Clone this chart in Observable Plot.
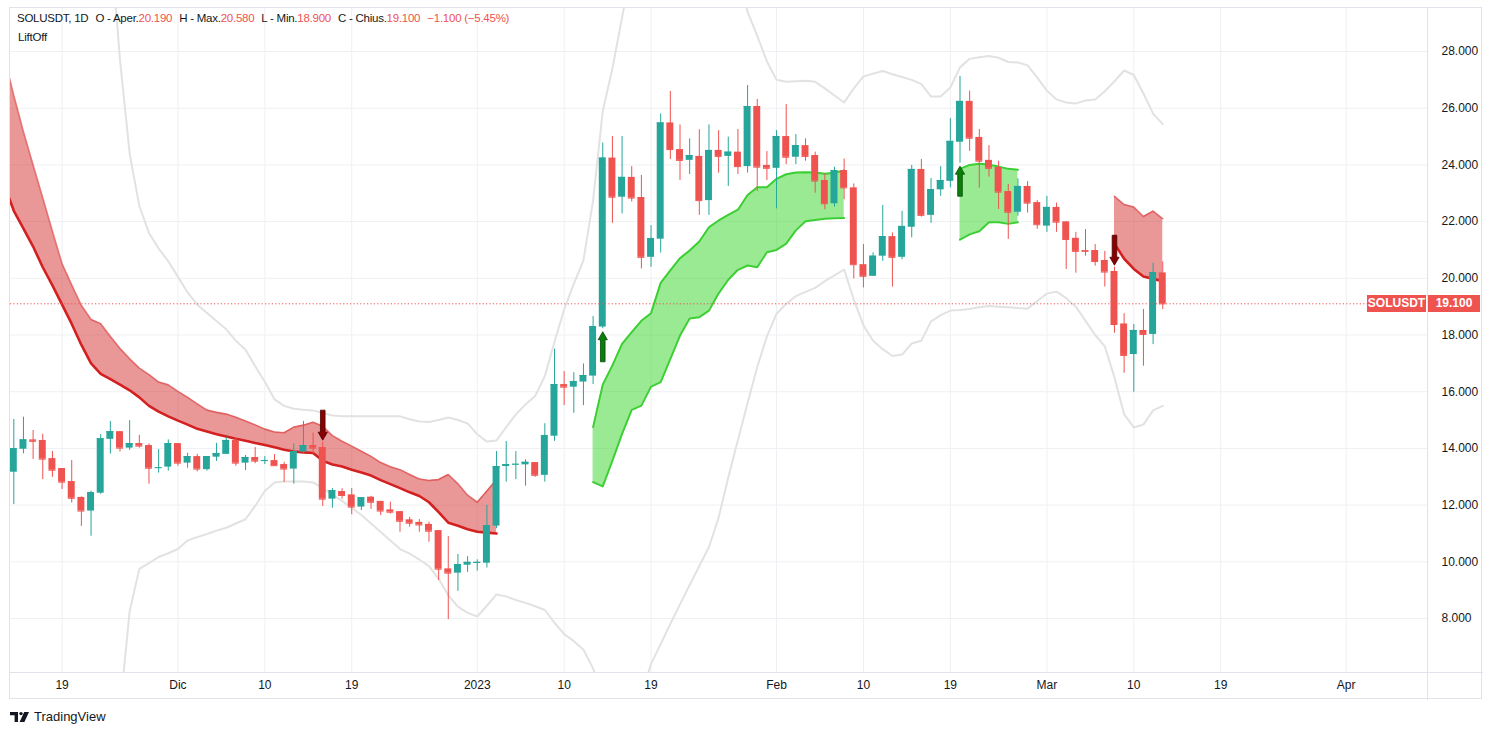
<!DOCTYPE html>
<html>
<head>
<meta charset="utf-8">
<script src="https://cdn.jsdelivr.net/npm/d3@7"></script>
<script src="https://cdn.jsdelivr.net/npm/@observablehq/plot@0.6"></script>
<style>
  html, body { margin: 0; padding: 0; background: #ffffff; }
  #wrap { position: relative; width: 1493px; height: 735px; font-family: "Liberation Sans", Arial, sans-serif; color: #131722; overflow: hidden; }
  #chart svg { display: block; }
  .ovl { position: absolute; pointer-events: none; }
  #header { left: 17px; top: 12px; font-size: 11.5px; letter-spacing: -0.25px; white-space: nowrap; }
  #header .g { margin-right: 7px; }
  #header .r { color: #ef5350; }
  #study { left: 18px; top: 31px; font-size: 11.5px; letter-spacing: -0.2px; }
  .pl { position: absolute; height: 17px; line-height: 17px; background: #ef5350; color: #fff; font-size: 12px; font-weight: bold; text-align: center; }
  #logo { left: 10px; top: 709px; font-size: 13px; display: flex; align-items: center; }
</style>
</head>
<body>
<div id="wrap">
  <div id="chart"></div>
</div>
<script>
// ---------- data ----------
const symbolName = "SOLUSDT";
const startUTC = Date.UTC(2022, 10, 14); // first candle: 14 Nov 2022
const DAY = 86400000;

const open = [
  13.16,13.97,14.30,14.28,13.64,13.29,12.83,12.27,11.79,12.42,
  14.32,14.59,14.01,14.17,14.10,13.30,13.34,14.17,13.48,13.71,
  13.25,13.69,13.79,14.28,13.48,13.68,13.54,13.57,13.43,13.27,
  13.87,14.10,14.03,12.21,12.48,12.36,11.93,12.28,12.13,11.83,
  11.77,11.48,11.39,11.32,11.10,9.75,9.60,9.88,9.94,9.95,
  11.26,13.36,13.42,13.42,13.50,13.05,14.43,16.25,16.16,16.34,
  16.55,18.28,24.24,22.86,23.56,22.85,20.74,21.38,25.48,24.54,
  24.16,24.30,22.74,24.51,24.30,24.45,23.94,26.06,23.98,23.88,
  25.00,24.27,24.68,24.33,23.45,22.63,23.80,23.19,20.48,20.07,
  20.78,21.47,20.74,21.80,23.84,22.22,23.12,23.42,24.80,26.24,
  24.97,24.16,23.91,23.06,22.33,23.24,22.67,21.84,22.50,21.99,
  21.41,20.98,20.98,20.63,20.24,18.39,17.31,18.16,18.02,20.19];
const high = [
  15.02,15.10,14.63,14.50,13.89,13.29,13.57,12.29,12.49,14.49,
  14.95,14.59,14.98,14.46,14.16,13.96,14.30,14.17,13.83,13.79,
  13.71,14.18,14.39,14.37,13.75,14.03,13.71,13.78,13.51,14.16,
  14.95,14.54,14.22,12.58,12.58,12.58,12.26,12.31,12.13,12.10,
  11.77,11.57,11.49,11.40,11.10,10.89,10.26,10.18,10.07,11.99,
  13.89,14.24,13.89,13.60,13.50,14.87,17.50,16.71,16.67,16.98,
  18.65,24.77,25.00,25.00,23.94,23.63,21.86,25.80,26.59,25.41,
  24.92,25.24,25.41,25.21,24.98,25.25,26.80,26.31,24.47,25.21,
  26.13,25.07,24.92,24.45,23.69,23.92,24.21,23.33,21.19,20.90,
  22.57,21.60,22.36,23.98,24.19,23.52,23.94,25.63,27.12,26.60,
  25.25,24.68,24.13,23.31,23.51,23.41,22.74,22.89,22.65,22.00,
  21.62,21.72,21.19,20.95,20.39,18.75,18.37,18.90,20.53,20.58];
const low = [
  12.02,13.81,13.61,12.90,12.98,12.55,12.07,11.25,10.90,12.38,
  13.80,13.87,13.93,14.01,12.74,13.13,13.20,13.37,13.30,13.17,
  13.20,13.54,13.79,13.37,13.22,13.46,13.43,13.37,12.80,12.74,
  13.81,13.81,11.95,11.89,12.21,11.66,11.81,11.85,11.63,11.68,
  11.04,11.22,11.04,10.69,9.34,7.96,8.96,9.63,9.67,9.78,
  11.17,12.81,12.90,12.67,12.98,12.81,14.25,15.51,15.24,15.51,
  16.25,18.22,21.94,22.27,22.69,20.33,20.39,20.89,24.19,23.45,
  23.66,22.22,22.22,23.71,23.24,23.66,23.71,23.06,23.45,22.45,
  24.01,24.01,24.13,23.00,22.42,22.51,22.77,19.98,19.66,20.07,
  20.60,19.69,20.65,21.43,22.16,21.94,22.89,23.19,24.06,24.48,
  23.18,23.57,22.43,21.37,22.19,22.30,21.73,21.62,21.62,20.31,
  20.18,20.78,20.43,19.69,18.06,16.65,15.98,16.90,17.66,18.90];
const close = [
  13.99,14.30,14.25,13.62,13.23,12.81,12.24,11.79,12.44,14.34,
  14.59,14.01,14.17,14.08,13.30,13.32,14.17,13.48,13.71,13.27,
  13.71,13.82,14.28,13.48,13.68,13.55,13.57,13.39,13.27,13.89,
  14.10,14.01,12.21,12.51,12.34,11.93,12.26,12.10,11.79,11.75,
  11.43,11.36,11.30,11.08,9.74,9.60,9.90,9.98,9.98,11.28,
  13.36,13.43,13.44,13.51,13.05,14.45,16.25,16.16,16.36,16.57,
  18.30,24.24,22.86,23.56,22.83,20.74,21.40,25.48,24.54,24.16,
  24.33,22.74,24.51,24.30,24.45,23.94,26.06,23.92,23.88,25.00,
  24.27,24.68,24.30,23.43,22.63,23.80,23.19,20.48,20.07,20.78,
  21.47,20.74,21.83,23.84,22.22,23.13,23.45,24.83,26.24,24.94,
  24.13,23.88,23.04,22.33,23.24,22.65,21.89,22.50,21.98,21.37,
  20.95,20.95,20.59,20.22,18.37,17.28,18.16,18.02,20.20,19.10];

// LiftOff bands (day index = days after first candle)
const redBandAStart = -1;
const redBandATop = [27.8,26.44,25.16,23.99,22.83,21.65,20.51,19.76,19.04,18.55,18.40,17.95,17.52,17.16,16.83,16.60,16.34,16.24,16.01,15.80,15.57,15.35,15.27,15.21,15.10,14.97,14.83,14.68,14.58,14.55,14.75,14.82,14.92,14.78,14.45,14.25,14.08,13.90,13.72,13.50,13.35,13.25,13.08,12.92,12.87,12.90,13.08,12.75,12.35,12.10,12.50,12.90];
const redBandABottom = [23.3,22.38,21.75,21.12,20.39,19.75,19.07,18.39,17.65,17.00,16.63,16.44,16.25,16.05,15.80,15.50,15.30,15.13,14.98,14.84,14.69,14.60,14.50,14.42,14.34,14.27,14.19,14.12,14.04,13.95,13.89,13.86,13.84,13.56,13.43,13.36,13.25,13.15,13.04,12.88,12.74,12.60,12.45,12.32,12.10,11.75,11.38,11.27,11.15,11.06,11.03,11.00];
const greenBandAStart = 60;
const greenBandATop = [14.75,16.25,16.93,17.69,18.10,18.50,18.77,19.84,20.28,20.71,20.98,21.30,21.80,22.04,22.24,22.42,22.94,23.21,23.21,23.51,23.67,23.73,23.74,23.73,23.69,23.72,23.80];
const greenBandABottom = [12.81,12.66,13.57,14.51,15.36,15.51,16.18,16.34,17.16,17.98,18.58,18.63,18.86,19.47,19.95,20.30,20.45,20.39,20.92,21.00,21.22,21.69,22.01,22.06,22.10,22.12,22.13];
const greenBandBStart = 98;
const greenBandBTop = [23.86,24.00,24.04,24.01,23.94,23.86,23.83];
const greenBandBBottom = [21.36,21.55,21.66,21.98,21.98,21.92,21.98];
const redBandBStart = 114;
const redBandBTop = [22.89,22.60,22.51,22.18,22.37,22.10];
const redBandBBottom = [21.22,20.69,20.33,20.06,19.98,19.90];

// envelope (grey) lines, as segments: [startDay, values]
const upperEnvA = [10, [32.0,27.7,24.4,22.55,21.6,21.05,20.6,20.05,19.5,19.07,18.78,18.49,18.2,17.8,17.48,16.9,16.35,15.73,15.5,15.4,15.36,15.34,15.25,15.16,15.13,15.13,15.13,15.13,15.13,15.13,15.13,15.03,14.95,14.93,15.0,15.09,15.0,14.88,14.5,14.24,14.28,14.75,15.2,15.55,15.85,16.55,17.75,18.9,19.8,20.63,22.75,25.9,27.4,29.2,31.0]];
const upperEnvB = [75, [31.0,29.4,28.55,27.65,27.0,26.93,26.95,26.97,26.93,26.7,26.45,26.2,26.7,27.12,27.22,27.31,27.2,27.1,27.0,26.85,26.41,26.41,26.73,27.44,27.74,27.8,27.84,27.78,27.63,27.61,27.51,27.08,26.62,26.31,26.2,26.17,26.27,26.31,26.6,26.95,27.33,27.17,26.52,25.81,25.44]];
const lowerEnvA = [11, [4.8,8.26,9.75,9.95,10.17,10.3,10.45,10.75,10.87,10.98,11.1,11.2,11.35,11.5,11.97,12.5,12.8,12.83,12.83,12.83,12.8,12.6,12.37,12.15,11.9,11.65,11.35,11.05,10.75,10.45,10.29,10.08,9.85,9.4,8.82,8.42,8.2,8.07,8.45,8.85,8.78,8.65,8.55,8.43,8.3,7.85,7.45,7.2,6.9,6.24,5.3]];
const lowerEnvB = [65, [5.3,6.4,7.1,7.81,8.5,9.18,9.85,10.52,11.56,12.97,14.3,15.6,16.87,17.95,18.75,19.1,19.37,19.52,19.66,19.9,20.1,20.31,19.25,18.34,17.8,17.5,17.26,17.31,17.7,17.8,18.48,18.7,18.86,18.88,18.92,18.98,19.02,19.0,18.98,18.95,18.93,19.2,19.46,19.53,19.3,19.0,18.5,18.0,17.6,16.5,15.2,14.74,14.84,15.34,15.5]];

// signals (arrows)
const signalDays = [32, 61, 98, 114];
const signalDirs = ["down", "up", "up", "down"];

// axis ticks
const tickDates = [[2022,10,19],[2022,11,1],[2022,11,10],[2022,11,19],[2023,0,1],[2023,0,10],[2023,0,19],[2023,1,1],[2023,1,10],[2023,1,19],[2023,2,1],[2023,2,10],[2023,2,19],[2023,3,1]];
const tickLabels = ["19","Dic","10","19","2023","10","19","Feb","10","19","Mar","10","19","Apr"];
const priceTicks = [8,10,12,14,16,18,20,22,24,26,28];

// ---------- build ----------
const UP = "#26a69a", DOWN = "#ef5350";
const dayDate = (d) => new Date(startUTC + d * DAY);
const candles = open.map((o, i) => ({date: dayDate(i), day: i, open: o, high: high[i], low: low[i], close: close[i], color: close[i] >= o ? UP : DOWN}));
const band = (start, top, bottom) => top.map((t, i) => ({date: dayDate(start + i), top: t, bottom: bottom[i]}));
const env = ([start, vals]) => vals.map((v, i) => ({date: dayDate(start + i), v}));
const redA = band(redBandAStart, redBandATop, redBandABottom);
const redB = band(redBandBStart, redBandBTop, redBandBBottom);
const greenA = band(greenBandAStart, greenBandATop, greenBandABottom);
const greenB = band(greenBandBStart, greenBandBTop, greenBandBBottom);
const ticks = tickDates.map(([y, m, d]) => new Date(Date.UTC(y, m, d)));
const tickLabelMap = new Map(ticks.map((t, i) => [+t, tickLabels[i]]));
const signals = signalDays.map((d, i) => ({date: dayDate(d), dir: signalDirs[i], high: high[d], low: low[d]}));

const arrowUp = {draw(c) { c.moveTo(0,-15); c.lineTo(4.6,-7); c.lineTo(2.3,-7); c.lineTo(2.3,15); c.lineTo(-2.3,15); c.lineTo(-2.3,-7); c.lineTo(-4.6,-7); c.closePath(); }};
const arrowDown = {draw(c) { c.moveTo(0,15); c.lineTo(4.6,7); c.lineTo(2.3,7); c.lineTo(2.3,-15); c.lineTo(-2.3,-15); c.lineTo(-2.3,7); c.lineTo(-4.6,7); c.closePath(); }};

const halfBody = 0.36 * DAY;
const lastClose = close[close.length - 1];

const redMarks = (data) => [
  Plot.areaY(data, {x: "date", y1: "bottom", y2: "top", fill: "#d32f2f", fillOpacity: 0.5, clip: true}),
  Plot.line(data, {x: "date", y: "top", stroke: "#dd4b4b", strokeOpacity: 0.75, strokeWidth: 1.6, clip: true}),
  Plot.line(data, {x: "date", y: "bottom", stroke: "#d32020", strokeWidth: 2.6, clip: true})
];
const greenMarks = (data) => [
  Plot.areaY(data, {x: "date", y1: "bottom", y2: "top", fill: "#35d328", fillOpacity: 0.5, clip: true}),
  Plot.line(data, {x: "date", y: "top", stroke: "#3ccf34", strokeWidth: 2, clip: true}),
  Plot.line(data, {x: "date", y: "bottom", stroke: "#3ccf34", strokeWidth: 2, clip: true})
];

const chart = Plot.plot({
  width: 1493,
  height: 700,
  marginLeft: 10,
  marginRight: 66,
  marginTop: 7,
  marginBottom: 28,
  style: {background: "#ffffff", fontFamily: "Liberation Sans, Arial, sans-serif", fontSize: "12px", color: "#131722", overflow: "visible"},
  x: {type: "utc", domain: [dayDate(-0.342), dayDate(146.42)]},
  y: {domain: [6.095, 29.552]},
  color: {type: "identity"},
  marks: [
    Plot.gridX(ticks, {stroke: "#eef0f3", strokeOpacity: 1}),
    Plot.gridY(priceTicks, {stroke: "#eef0f3", strokeOpacity: 1}),
    Plot.axisX(ticks, {tickSize: 0, tickPadding: 8, tickFormat: (d) => tickLabelMap.get(+d), fontSize: 12, fill: "#131722"}),
    Plot.axisY(priceTicks, {anchor: "right", tickSize: 0, tickPadding: 14, tickFormat: (d) => d.toFixed(3), fontSize: 12, fill: "#131722"}),
    ...[upperEnvA, upperEnvB, lowerEnvA, lowerEnvB].map((e) => Plot.line(env(e), {x: "date", y: "v", stroke: "#e2e2e2", strokeWidth: 2, clip: true})),
    ...redMarks(redA),
    ...redMarks(redB),
    ...greenMarks(greenA),
    ...greenMarks(greenB),
    Plot.ruleX(candles, {x: "date", y1: "low", y2: "high", stroke: "color", strokeWidth: 1}),
    Plot.rect(candles, {x1: (d) => new Date(+d.date - halfBody), x2: (d) => new Date(+d.date + halfBody), y1: "open", y2: "close", fill: "color"}),
    Plot.ruleY(candles, {x1: (d) => new Date(+d.date - halfBody), x2: (d) => new Date(+d.date + halfBody), y: "close", stroke: "color"}),
    Plot.ruleY([lastClose], {stroke: "#ef5350", strokeDasharray: "1.2,2.2", strokeWidth: 1}),
    Plot.dot(signals.filter((s) => s.dir === "up"), {x: "date", y: "low", symbol: arrowUp, r: 8, dy: 18, fill: "#0a7f0a", stroke: "#064806", strokeWidth: 0.8}),
    Plot.dot(signals.filter((s) => s.dir === "down"), {x: "date", y: "high", symbol: arrowDown, r: 8, dy: -17, fill: "#8a0000", stroke: "#4a0000", strokeWidth: 0.8})
  ]
});
document.getElementById("chart").appendChild(chart);

// ---------- overlays (text, borders, price label) ----------
const wrap = document.getElementById("wrap");
const fmt = (v) => v.toFixed(3);
const last = close.length - 1;
const chg = close[last] - close[last - 1];
const pct = chg / close[last - 1] * 100;
const minus = (s) => s.replace("-", "\u2212");
const header = document.createElement("div");
header.id = "header"; header.className = "ovl";
header.innerHTML =
  `<span class="g">${symbolName}, 1D</span>` +
  `<span class="g">O - Aper.<span class="r">${fmt(open[last])}</span></span>` +
  `<span class="g">H - Max.<span class="r">${fmt(high[last])}</span></span>` +
  `<span class="g">L - Min.<span class="r">${fmt(low[last])}</span></span>` +
  `<span class="g">C - Chius.<span class="r">${fmt(close[last])}</span></span>` +
  `<span class="r">${minus(chg.toFixed(3))} (${minus(pct.toFixed(2))}%)</span>`;
wrap.appendChild(header);
const study = document.createElement("div");
study.id = "study"; study.className = "ovl"; study.textContent = "LiftOff";
wrap.appendChild(study);

const addBox = (css) => { const d = document.createElement("div"); d.className = "ovl"; Object.assign(d.style, css); wrap.appendChild(d); return d; };
addBox({left: "9px", top: "7px", width: "1473px", height: "692px", border: "1px solid #e0e3eb", boxSizing: "border-box"});
addBox({left: "1427px", top: "7px", width: "1px", height: "693px", background: "#e0e3eb"});
addBox({left: "9px", top: "672px", width: "1474px", height: "1px", background: "#e0e3eb"});

const yPix = chart.scale("y").apply(lastClose);
const lab1 = addBox({}); lab1.className = "ovl pl"; Object.assign(lab1.style, {left: "1367px", width: "59px", top: (yPix - 8.5) + "px"}); lab1.textContent = symbolName;
const lab2 = addBox({}); lab2.className = "ovl pl"; Object.assign(lab2.style, {left: "1428px", width: "52px", top: (yPix - 8.5) + "px"}); lab2.textContent = fmt(lastClose);

const logo = document.createElement("div");
logo.id = "logo"; logo.className = "ovl";
logo.innerHTML = `<svg width="20" height="12" viewBox="0 0 20 12" style="margin-right:4px"><path d="M0 1H8V11H4.6V4.2H0Z" fill="#131722"/><circle cx="11" cy="2.6" r="1.7" fill="#131722"/><path d="M14.2 1H19L14.4 11H9.6Z" fill="#131722"/></svg><span>TradingView</span>`;
wrap.appendChild(logo);
</script>
</body>
</html>
